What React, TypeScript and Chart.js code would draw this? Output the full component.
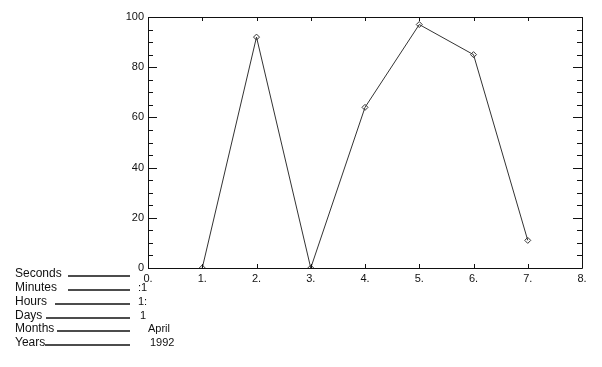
import React, { useEffect, useRef } from "react";
import { Chart, registerables } from "chart.js";

Chart.register(...registerables);

const xValues = [1, 2, 3, 4, 5, 6, 7];
const yValues = [0, 92, 0, 64, 97, 85, 11];
const timeLabels = ["Seconds", "Minutes", "Hours", "Days", "Months", "Years"];
const timeValues = ["", ":1", "1:", "1", "April", "1992"];

const FONT = "'Liberation Sans', Arial, sans-serif";

const framePlugin = {
  id: "idlFrame",
  afterDraw(chart: any) {
    const ctx = chart.ctx as CanvasRenderingContext2D;
    const { left, right, top, bottom } = chart.chartArea;
    const xs = chart.scales.x;
    const ys = chart.scales.y;
    ctx.save();
    ctx.strokeStyle = "#111";
    ctx.lineWidth = 1;
    ctx.beginPath();
    ctx.rect(Math.round(left) + 0.5, Math.round(top) + 0.5, Math.round(right - left), Math.round(bottom - top));
    ctx.stroke();
    // x ticks (inward, bottom and top)
    ctx.beginPath();
    for (let v = xs.min; v <= xs.max; v += 1) {
      const px = Math.round(xs.getPixelForValue(v)) + 0.5;
      ctx.moveTo(px, bottom);
      ctx.lineTo(px, bottom - 4);
      ctx.moveTo(px, top);
      ctx.lineTo(px, top + 4);
    }
    // y ticks (major every 20, minor every 5), left and right
    for (let v = ys.min; v <= ys.max; v += 5) {
      const py = Math.round(ys.getPixelForValue(v)) + 0.5;
      const len = v % 20 === 0 ? 9 : 5;
      ctx.moveTo(left, py);
      ctx.lineTo(left + len, py);
      ctx.moveTo(right, py);
      ctx.lineTo(right - len, py);
    }
    ctx.stroke();

    // time legend at bottom left
    ctx.fillStyle = "#111";
    ctx.font = `12px ${FONT}`;
    ctx.textBaseline = "middle";
    const rowY = [274, 288, 302, 316, 329, 343];
    const lineStart = [68, 68, 55, 46, 57, 45];
    const valX = [138, 138, 138, 140, 148, 150];
    timeLabels.forEach((lab, i) => {
      ctx.fillText(lab, 15, rowY[i]);
    });
    ctx.lineWidth = 1.3;
    timeLabels.forEach((lab, i) => {
      ctx.beginPath();
      ctx.moveTo(lineStart[i], rowY[i] + 2);
      ctx.lineTo(130, rowY[i] + 2);
      ctx.stroke();
    });
    ctx.font = `11px ${FONT}`;
    timeValues.forEach((val, i) => {
      if (val) ctx.fillText(val, valX[i], rowY[i]);
    });
    ctx.restore();
  },
};

export default function App() {
  const ref = useRef<HTMLCanvasElement | null>(null);
  useEffect(() => {
    document.body.style.margin = "0";
    const canvas = ref.current;
    if (!canvas) return;
    const chart = new Chart(canvas, {
      type: "line",
      data: {
        datasets: [
          {
            data: xValues.map((x, i) => ({ x, y: yValues[i] })),
            borderColor: "#333",
            borderWidth: 1,
            pointStyle: "rectRot",
            pointRadius: 3,
            pointBorderColor: "#333",
            pointBackgroundColor: "rgba(255,255,255,0)",
            pointBorderWidth: 1,
            tension: 0,
          },
        ],
      },
      options: {
        responsive: false,
        animation: false,
        events: [],
        layout: { padding: { left: 0, right: 20, top: 17, bottom: 0 } },
        plugins: { legend: { display: false }, tooltip: { enabled: false } },
        scales: {
          x: {
            type: "linear",
            min: 0,
            max: 8,
            grid: { display: false, drawTicks: false, tickLength: 0 },
            border: { display: false },
            afterFit: (s: any) => {
              s.height = 99;
            },
            ticks: {
              stepSize: 1,
              padding: 4,
              color: "#111",
              font: { family: FONT, size: 11 },
              maxRotation: 0,
              callback: (v: any) => `${v}.`,
            },
          },
          y: {
            type: "linear",
            min: 0,
            max: 100,
            grid: { display: false, drawTicks: false, tickLength: 0 },
            border: { display: false },
            afterFit: (s: any) => {
              s.width = 148;
            },
            ticks: {
              stepSize: 20,
              padding: 4,
              color: "#111",
              font: { family: FONT, size: 11 },
            },
          },
        },
      },
      plugins: [framePlugin],
    } as any);
    return () => chart.destroy();
  }, []);
  return (
    <div style={{ width: 602, height: 367 }}>
      <canvas ref={ref} width={602} height={367} style={{ display: "block" }} />
    </div>
  );
}
